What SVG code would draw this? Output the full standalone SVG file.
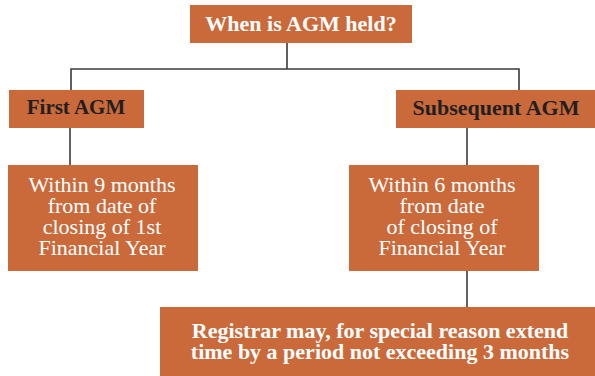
<svg xmlns="http://www.w3.org/2000/svg" width="595" height="376" viewBox="0 0 595 376">
<style>
.box{fill:#CA6A3B}
.conn{stroke:#3a3a3a;stroke-width:1.6;fill:none}
.t{font-family:"Liberation Serif","Times New Roman",serif;text-anchor:middle}
.b{font-weight:bold}
.w{fill:#ffffff}
.d{fill:#231f20}
</style>
<rect width="595" height="376" fill="#ffffff"/>
<g id="connectors">
<path class="conn" d="M287 43V69M71 90V69H519V90"/>
<path class="conn" d="M70 128V165"/>
<path class="conn" d="M467 128V165"/>
<path class="conn" d="M467 271V307"/>
</g>
<g id="root">
<rect class="box" x="190" y="5" width="222" height="38"/>
<text class="t b w" x="301" y="31" font-size="22">When is AGM held?</text>
</g>
<g id="first">
<rect class="box" x="9" y="90" width="135" height="38"/>
<text class="t b d" x="76" y="114" font-size="21">First AGM</text>
</g>
<g id="subsequent">
<rect class="box" x="396" y="90" width="199" height="38"/>
<text class="t b d" x="496" y="115" font-size="22">Subsequent AGM</text>
</g>
<g id="first-detail">
<rect class="box" x="8" y="165" width="190" height="106"/>
<text class="t w" x="102" font-size="22"><tspan x="102" y="192">Within 9 months</tspan><tspan x="102" y="213">from date of</tspan><tspan x="102" y="234">closing of 1st</tspan><tspan x="102" y="255">Financial Year</tspan></text>
</g>
<g id="subsequent-detail">
<rect class="box" x="349" y="165" width="190" height="106"/>
<text class="t w" x="442" font-size="22"><tspan x="442" y="192">Within 6 months</tspan><tspan x="442" y="213">from date</tspan><tspan x="442" y="234">of closing of</tspan><tspan x="442" y="255">Financial Year</tspan></text>
</g>
<g id="registrar">
<rect class="box" x="160" y="307" width="435" height="69"/>
<text class="t b w" x="380" font-size="22"><tspan x="380" y="338">Registrar may, for special reason extend</tspan><tspan x="380" y="359">time by a period not exceeding 3 months</tspan></text>
</g>
</svg>
